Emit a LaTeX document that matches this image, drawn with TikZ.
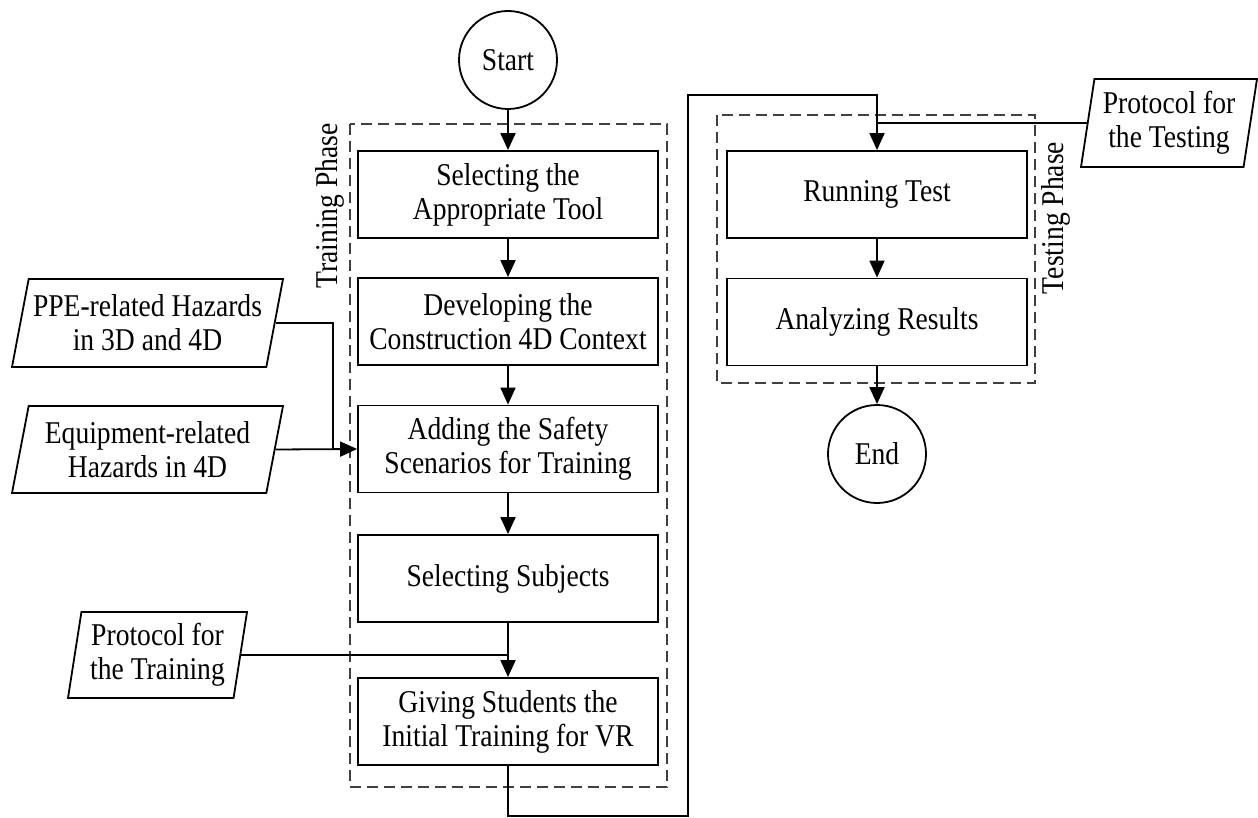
\documentclass[tikz,border=0pt]{standalone}
\usepackage{fontspec}
\setmainfont{Liberation Serif}[FakeStretch=0.87]
\usetikzlibrary{shapes.geometric,arrows.meta}
\begin{document}
\begin{tikzpicture}[x=1pt,y=-1pt,
  every node/.style={font=\fontsize{31.7}{34}\selectfont},
  proc/.style={draw, line width=1.8pt, minimum width=300pt, minimum height=87pt, align=center, inner sep=0pt},
  term/.style={draw, circle, line width=1.8pt, minimum size=98pt, inner sep=0pt},
  io/.style={draw, trapezium, trapezium stretches body, line width=1.8pt, align=center, inner sep=0pt},
  conn/.style={line width=1.8pt},
  arr/.style={conn, -{Triangle[length=17pt,width=15pt]}},
  phase/.style={draw=black!75, dash pattern=on 11pt off 6pt, line width=1.4pt},
  phaselabel/.style={rotate=90, inner sep=0pt}
]
\useasboundingbox (0,0) rectangle (1258,818);

% phase frames
\draw[phase] (350,124) rectangle (667,787);
\draw[phase] (717,115) rectangle (1035,383);
\node[phaselabel] (trainlbl) at (330,206) {Training Phase};
\node[phaselabel] (testlbl) at (1056,218) {Testing Phase};

% main flow
\node[term] (start) at (508,60) {Start};
\node[proc] (b1) at (508,194.5) {Selecting the\\Appropriate Tool};
\node[proc] (b2) at (508,321.5) {Developing the\\Construction 4D Context};
\node[proc] (b3) at (508,449) {Adding the Safety\\Scenarios for Training};
\node[proc] (b4) at (508,578.5) {Selecting Subjects};
\node[proc] (b5) at (508,721.5) {Giving Students the\\Initial Training for VR};

\node[proc] (r1) at (877,194.5) {Running Test};
\node[proc] (r2) at (877,322) {Analyzing Results};
\node[term] (end) at (877,454) {End};

% inputs
\node[io, trapezium left angle=73.5, trapezium right angle=106.5, minimum width=271pt, minimum height=88pt] (ppe) at (147.5,323) {PPE-related Hazards\\in 3D and 4D};
\node[io, trapezium left angle=73.5, trapezium right angle=106.5, minimum width=271pt, minimum height=87pt] (eq) at (147.5,449.5) {Equipment-related\\Hazards in 4D};
\node[io, trapezium left angle=78, trapezium right angle=102, minimum width=179pt, minimum height=86pt] (ptr) at (157.5,655) {Protocol for\\the Training};
\node[io, trapezium left angle=78, trapezium right angle=102, minimum width=176pt, minimum height=88pt] (pte) at (1169,123) {Protocol for\\the Testing};

% junction coordinates
\coordinate (j1) at (333,449);
\coordinate (j2) at (b4.south |- ptr.east);
\coordinate (c2) at (688,816);
\coordinate (c4) at (877,95);
\coordinate (j3) at (r1.north |- pte.west);

% connectors
\draw[arr] (start) -- (b1);
\draw[arr] (b1) -- (b2);
\draw[arr] (b2) -- (b3);
\draw[arr] (b3) -- (b4);
\draw[arr] (b4) -- (b5);
\draw[conn] (ppe.east) -| (j1);
\draw[arr] (eq.east) -- (b3.west);
\draw[conn] (ptr.east) -- (j2);
\draw[arr] (b5.south) |- (c2) |- (c4) -- (r1.north);
\draw[conn] (pte.west) -- (j3);
\draw[arr] (r1) -- (r2);
\draw[arr] (r2) -- (end);
\end{tikzpicture}
\end{document}
